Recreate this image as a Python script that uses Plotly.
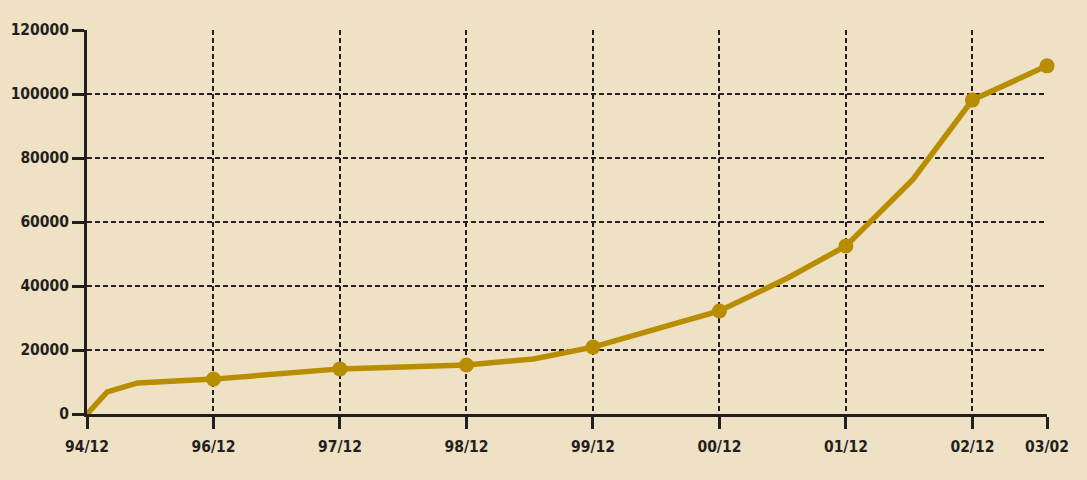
import plotly.graph_objects as go

# x positions: one unit per labelled tick (the chart is not time-proportional)
x_pos = [0, 0.16, 0.40, 1, 2, 3, 3.53, 4, 5, 5.54, 6, 6.53, 7, 7.59]
values = [0, 6900, 9700, 10900, 14100, 15300, 17200, 20900, 32200, 42500, 52500, 73300, 98100, 108800]
has_dot = [False, False, False, True, True, True, False, True, True, False, True, False, True, True]

tick_pos = [0, 1, 2, 3, 4, 5, 6, 7, 7.59]
tick_text = ['94/12', '96/12', '97/12', '98/12', '99/12', '00/12', '01/12', '02/12', '03/02']
y_ticks = [0, 20000, 40000, 60000, 80000, 100000, 120000]

bg = '#EFE1C4'
ink = '#231F20'
gold = '#B88E00'
font = dict(family='DejaVu Sans Condensed, Liberation Sans Narrow, sans-serif',
            size=15.5, color=ink, weight='bold')

fig = go.Figure()
fig.add_trace(go.Scatter(
    x=x_pos, y=values,
    mode='lines+markers',
    line=dict(color=gold, width=5.5),
    marker=dict(color=gold, size=[15 if d else 0 for d in has_dot],
                opacity=1, line_width=0),
    cliponaxis=False,
    showlegend=False,
    hoverinfo='skip'
))

fig.update_xaxes(
    range=[0, 7.59],
    tickmode='array', tickvals=tick_pos, ticktext=tick_text,
    showline=True, linecolor=ink, linewidth=3,
    ticks='outside', ticklen=12, tickwidth=3, tickcolor=ink,
    ticklabelstandoff=4,
    showgrid=True, gridcolor=ink, gridwidth=1.5, griddash='5px,3px',
    zeroline=False, tickfont=font
)
fig.update_yaxes(
    range=[0, 120000],
    tickmode='array', tickvals=y_ticks, ticktext=[str(v) for v in y_ticks],
    showline=True, linecolor=ink, linewidth=3,
    ticks='outside', ticklen=12, tickwidth=3, tickcolor=ink,
    showgrid=True, gridcolor=ink, gridwidth=1.5, griddash='5px,3px',
    zeroline=False, tickfont=font
)

fig.update_layout(
    width=1087, height=480,
    margin=dict(l=87, r=40, t=30, b=66),
    paper_bgcolor=bg, plot_bgcolor=bg,
    font=font
)

# drop the page's default body margin so the chart sits at the window corner
fig.write_html("out.html", config={'displayModeBar': False},
               post_script="document.body.style.margin='0';document.body.style.background='%s';" % bg)
